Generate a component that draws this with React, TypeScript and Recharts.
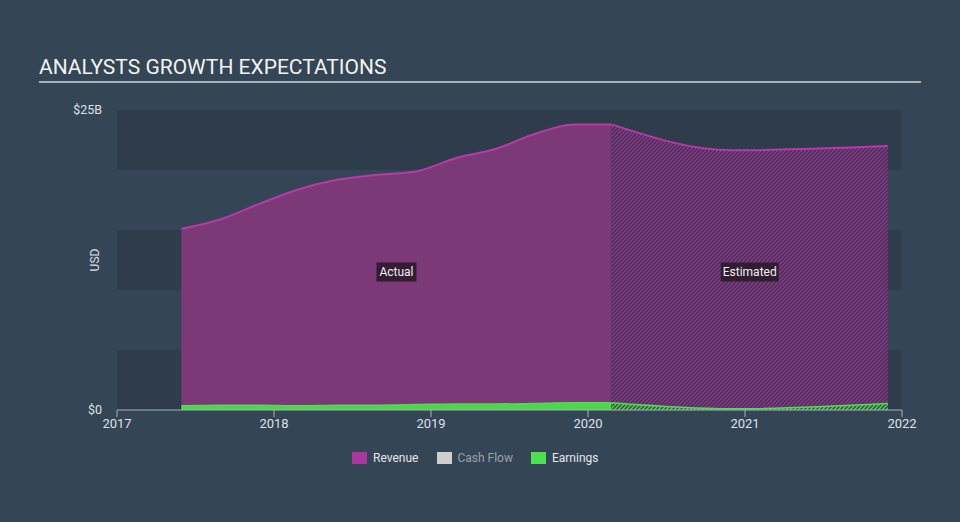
import React from 'react';
import { ComposedChart, Area, XAxis, YAxis, ReferenceArea, ReferenceDot } from 'recharts';

const actualYears = [2017.41, 2017.66, 2017.91, 2018.16, 2018.41, 2018.66, 2018.91, 2019.16, 2019.41, 2019.66, 2019.91, 2020.15];
const revenueActual = [15.1, 15.9, 17.2, 18.4, 19.2, 19.6, 19.9, 21.0, 21.75, 23.0, 23.8, 23.8];
const earningsActual = [0.35, 0.4, 0.4, 0.35, 0.4, 0.4, 0.45, 0.5, 0.5, 0.55, 0.6, 0.6];

const estimateYears = [2020.15, 2020.91, 2021.91];
const revenueEstimate = [23.8, 21.65, 22.0];
const earningsEstimate = [0.6, 0.1, 0.55];

const xTicks = [2017, 2018, 2019, 2020, 2021, 2022];
const yTicks = [0, 25];
const bands = [[0, 5], [10, 15], [20, 25]];

const allYears = Array.from(new Set([...actualYears, ...estimateYears])).sort((a, b) => a - b);
const data = allYears.map((x) => {
  const ai = actualYears.indexOf(x);
  const ei = estimateYears.indexOf(x);
  return {
    x,
    revA: ai >= 0 ? revenueActual[ai] : null,
    earnA: ai >= 0 ? earningsActual[ai] : null,
    revE: ei >= 0 ? revenueEstimate[ei] : null,
    earnE: ei >= 0 ? earningsEstimate[ei] : null,
  };
});

const actualMid = (actualYears[0] + actualYears[actualYears.length - 1]) / 2;
const estMid = (estimateYears[0] + estimateYears[estimateYears.length - 1]) / 2;

const FONT = 'Roboto, "Noto Sans", sans-serif';

const makeTag = (text: string, w: number) => (props: any) => {
  const { cx, cy } = props;
  return (
    <g>
      <rect x={cx - w / 2} y={cy - 9.5} width={w} height={19} fill="#2c1a2b" fillOpacity={0.9} />
      <text x={cx} y={cy + 4} textAnchor="middle" fill="#f0f0f0" fontSize={12} fontFamily={FONT}>{text}</text>
    </g>
  );
};

export default function App() {
  return (
    <div style={{ position: 'absolute', left: 0, top: 0, width: 960, height: 522, background: '#344555', fontFamily: FONT, overflow: 'hidden' }}>
      <div style={{ position: 'absolute', left: 39, top: 55, fontSize: 21, color: '#f2f2f2', letterSpacing: 0, lineHeight: '25px' }}>
        ANALYSTS GROWTH EXPECTATIONS
      </div>
      <div style={{ position: 'absolute', left: 39, top: 81, width: 882, height: 2, background: '#aab1b9' }} />
      <div style={{ position: 'absolute', left: 95, top: 260, transform: 'translate(-50%, -50%) rotate(-90deg)', fontSize: 12, color: '#dde' }}>USD</div>
      <div style={{ position: 'absolute', top: 0, left: 0 }}>
        <ComposedChart width={960} height={522} data={data} margin={{ top: 110, right: 58, bottom: 82, left: 57 }}>
          <defs>
            <pattern id="hatchRev" patternUnits="userSpaceOnUse" width={4} height={4}>
              <rect width={4} height={4} fill="#3b3350" />
              <path d="M-1,1 l2,-2 M0,4 l4,-4 M3,5 l2,-2" stroke="#96368e" strokeWidth={1.3} />
            </pattern>
            <pattern id="hatchEarn" patternUnits="userSpaceOnUse" width={4} height={4}>
              <rect width={4} height={4} fill="#3a4a48" />
              <path d="M-1,1 l2,-2 M0,4 l4,-4 M3,5 l2,-2" stroke="#4cd94c" strokeWidth={1.3} />
            </pattern>
          </defs>
          {bands.map(([a, b], i) => (
            <ReferenceArea key={i} x1={2017} x2={2022} y1={a} y2={b} fill="#2e3c4b" fillOpacity={1} stroke="none" ifOverflow="hidden" />
          ))}
          <XAxis
            dataKey="x"
            type="number"
            domain={[2017, 2022]}
            ticks={xTicks}
            allowDataOverflow
            stroke="#a9b1bb"
            tickSize={7}
            tick={{ fill: '#dde1e6', fontSize: 13, fontFamily: FONT }}
            tickFormatter={(v: number) => String(v)}
          />
          <YAxis
            type="number"
            domain={[0, 25]}
            ticks={yTicks}
            width={60}
            axisLine={false}
            tickLine={false}
            tickSize={0}
            tickMargin={15}
            tick={{ fill: '#dde1e6', fontSize: 12.5, fontFamily: FONT }}
            tickFormatter={(v: number) => (v === 0 ? '$0' : `$${v}B`)}
          />
          <Area dataKey="revA" type="monotone" stroke="#b53ba8" strokeWidth={2} fill="#7b3a77" fillOpacity={1} isAnimationActive={false} dot={false} activeDot={false} />
          <Area dataKey="revE" type="monotone" stroke="#b53ba8" strokeWidth={2} fill="url(#hatchRev)" fillOpacity={1} isAnimationActive={false} dot={false} activeDot={false} />
          <Area dataKey="earnA" type="monotone" stroke="#52dc52" strokeWidth={1.5} fill="#4cd64c" fillOpacity={1} isAnimationActive={false} dot={false} activeDot={false} />
          <Area dataKey="earnE" type="monotone" stroke="#52dc52" strokeWidth={1.5} fill="url(#hatchEarn)" fillOpacity={1} isAnimationActive={false} dot={false} activeDot={false} />
          <ReferenceDot x={actualMid} y={11.5} r={0} shape={makeTag('Actual', 40)} />
          <ReferenceDot x={estMid} y={11.5} r={0} shape={makeTag('Estimated', 58)} />
        </ComposedChart>
      </div>
      <div style={{ position: 'absolute', top: 452, left: 352, display: 'flex', alignItems: 'center', fontSize: 12, fontWeight: 400, height: 12 }}>
        <div style={{ width: 15, height: 12, background: '#a8389c' }} />
        <span style={{ marginLeft: 6, color: '#e4e6ea' }}>Revenue</span>
        <div style={{ width: 15, height: 12, background: '#cfcfcf', marginLeft: 19 }} />
        <span style={{ marginLeft: 5, color: '#9aa1a9' }}>Cash Flow</span>
        <div style={{ width: 15, height: 12, background: '#4ee04e', marginLeft: 18 }} />
        <span style={{ marginLeft: 6, color: '#e4e6ea' }}>Earnings</span>
      </div>
    </div>
  );
}
